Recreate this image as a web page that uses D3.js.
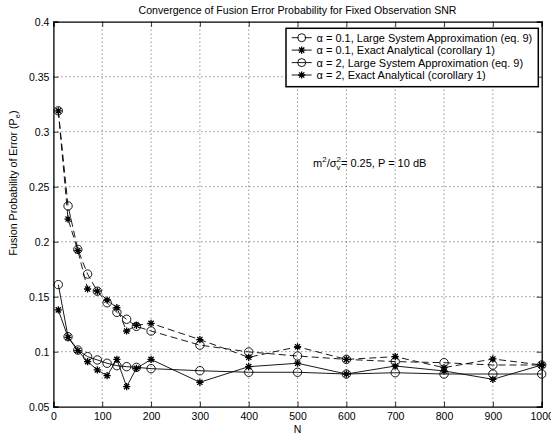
<!DOCTYPE html>
<html><head><meta charset="utf-8">
<script src="https://cdn.jsdelivr.net/npm/d3@7/dist/d3.min.js"></script>
<style>
html,body{margin:0;padding:0;background:#fff;}
text{font-family:"Liberation Sans",Arial,Helvetica,sans-serif;fill:#000;}
</style></head>
<body>
<svg id="c" width="551" height="437"></svg>
<script>
const N = [10,30,50,70,90,110,130,150,170,200,300,400,500,600,700,800,900,1000];
const lsa01   = [0.319,0.2325,0.193,0.1706,0.155,0.1445,0.1358,0.1295,0.123,0.1188,0.106,0.0998,0.0961,0.093,0.091,0.090,0.0879,0.0879];
const exact01 = [0.319,0.2206,0.192,0.157,0.155,0.147,0.140,0.1188,0.124,0.1258,0.111,0.0949,0.1045,0.093,0.0955,0.0855,0.0934,0.0879];
const lsa2    = [0.161,0.1136,0.1015,0.0955,0.0925,0.0895,0.0873,0.0864,0.0858,0.0846,0.0827,0.0813,0.0813,0.0797,0.0809,0.0797,0.0797,0.0797];
const exact2  = [0.138,0.113,0.101,0.091,0.0834,0.0782,0.093,0.0682,0.0849,0.093,0.0722,0.0864,0.0895,0.0797,0.087,0.0825,0.0749,0.0879];
const xTicks = [0,100,200,300,400,500,600,700,800,900,1000];
const yTicks = [0.05,0.1,0.15,0.2,0.25,0.3,0.35,0.4];
const legendLabels = [
  "\u03b1 = 0.1, Large System Approximation (eq. 9)",
  "\u03b1 = 0.1, Exact Analytical (corollary 1)",
  "\u03b1 = 2, Large System Approximation (eq. 9)",
  "\u03b1 = 2, Exact Analytical (corollary 1)"
];
const titleText = "Convergence of Fusion Error Probability for Fixed Observation SNR";

const svg = d3.select("#c");
const L = 53.4, R = 541.7, T = 21.7, B = 406.7;
const x = d3.scaleLinear().domain([0,1000]).range([L,R]);
const y = d3.scaleLinear().domain([0.05,0.4]).range([B,T]);

// grid
const g = svg.append("g");
g.selectAll(".gx").data(xTicks.slice(1,-1)).enter().append("line")
  .attr("x1",d=>x(d)).attr("x2",d=>x(d)).attr("y1",T).attr("y2",B)
  .attr("stroke","#333").attr("stroke-width",0.8).attr("stroke-dasharray","1,3");
g.selectAll(".gy").data(yTicks.slice(1,-1)).enter().append("line")
  .attr("y1",d=>y(d)).attr("y2",d=>y(d)).attr("x1",L).attr("x2",R)
  .attr("stroke","#333").attr("stroke-width",0.8).attr("stroke-dasharray","1,3");

// axes
const fs = 10.5;
const ax = svg.append("g").attr("transform",`translate(0,${B})`)
  .call(d3.axisBottom(x).tickValues(xTicks).tickSize(-5).tickPadding(6).tickFormat(d3.format("d")));
const ay = svg.append("g").attr("transform",`translate(${L},0)`)
  .call(d3.axisLeft(y).tickValues(yTicks).tickSize(-5).tickPadding(4).tickFormat(d=>String(+d.toFixed(2))));
const at = svg.append("g").attr("transform",`translate(0,${T})`)
  .call(d3.axisTop(x).tickValues(xTicks).tickSize(-5).tickFormat(""));
const ar = svg.append("g").attr("transform",`translate(${R},0)`)
  .call(d3.axisRight(y).tickValues(yTicks).tickSize(-5).tickFormat(""));
[ax,ay,at,ar].forEach(a=>{
  a.select(".domain").attr("stroke","#000").attr("stroke-width",1.3);
  a.selectAll(".tick line").attr("stroke","#000").attr("stroke-width",0.8);
  a.selectAll("text").attr("font-size",fs).attr("font-family",'"Liberation Sans",Arial,sans-serif').attr("fill","#000");
});

// marker drawing
function star(sel, cx, cy, r){
  const d = `M${cx-r},${cy}L${cx+r},${cy}M${cx},${cy-r}L${cx},${cy+r}` +
    `M${cx-r*0.72},${cy-r*0.72}L${cx+r*0.72},${cy+r*0.72}M${cx-r*0.72},${cy+r*0.72}L${cx+r*0.72},${cy-r*0.72}`;
  sel.append("path").attr("d",d).attr("stroke","#000").attr("stroke-width",1.3).attr("fill","none");
}
function circ(sel, cx, cy, r){
  sel.append("circle").attr("cx",cx).attr("cy",cy).attr("r",r).attr("fill","none")
    .attr("stroke","#000").attr("stroke-width",0.9);
}

const series = [
  {vals:lsa01, dash:"7,4", m:"o"},
  {vals:exact01, dash:"7,4", m:"*"},
  {vals:lsa2, dash:null, m:"o"},
  {vals:exact2, dash:null, m:"*"}
];
const line = d3.line().x((d,i)=>x(N[i])).y(d=>y(d));
const pg = svg.append("g");
series.forEach(s=>{
  const p = pg.append("path").datum(s.vals).attr("d",line).attr("fill","none")
    .attr("stroke","#000").attr("stroke-width",0.9);
  if(s.dash) p.attr("stroke-dasharray",s.dash);
});
series.forEach(s=>{
  s.vals.forEach((v,i)=>{
    if(s.m==="o") circ(pg,x(N[i]),y(v),4.2); else star(pg,x(N[i]),y(v),3.6);
  });
});

// title & labels
svg.append("text").attr("x",(L+R)/2).attr("y",14).attr("text-anchor","middle")
  .attr("font-size",10.6).text(titleText);
svg.append("text").attr("x",(L+R)/2).attr("y",433).attr("text-anchor","middle")
  .attr("font-size",10.5).text("N");
const yl = svg.append("text").attr("transform",`translate(17,183) rotate(-90)`)
  .attr("text-anchor","middle").attr("font-size",10.7);
yl.append("tspan").text("Fusion Probability of Error (P");
yl.append("tspan").attr("font-size",7.5).attr("dy",2.5).text("e");
yl.append("tspan").attr("dy",-2.5).text(")");

// annotation
(function(){
  let cx = 313; const by = 166.5; const ag = svg.append("g");
  function piece(t, dy, size){
    const e = ag.append("text").attr("x",cx).attr("y",by+dy).attr("font-size",size).text(t);
    return e.node().getComputedTextLength();
  }
  cx += piece("m",0,11);
  cx += piece("2",-5,8);
  cx += piece("/\u03c3",0,11);
  const w1 = piece("2",-5,8);
  const w2 = piece("v",3.5,8);
  cx += Math.max(w1,w2);
  piece(" = 0.25, P = 10 dB",0,11);
})();

// legend
const lg = svg.append("g");
const lx0 = 286, ly0 = 28.3, lw = 252.3, lh = 58.4;
lg.append("rect").attr("x",lx0).attr("y",ly0).attr("width",lw).attr("height",lh)
  .attr("fill","#fff").attr("stroke","#000").attr("stroke-width",1.5);
const rowsY = [37.7,50.1,62.6,75.0];
series.forEach((s,i)=>{
  const yy = rowsY[i];
  const ln = lg.append("line").attr("x1",291.7).attr("x2",311.7).attr("y1",yy).attr("y2",yy)
    .attr("stroke","#000").attr("stroke-width",0.9);
  if(s.dash) ln.attr("stroke-dasharray","7,6");
  if(s.m==="o") circ(lg,301.7,yy,4); else star(lg,301.7,yy,3.6);
  lg.append("text").attr("x",316.5).attr("y",yy+3.9).attr("font-size",11).text(legendLabels[i]);
});
</script>
</body></html>
